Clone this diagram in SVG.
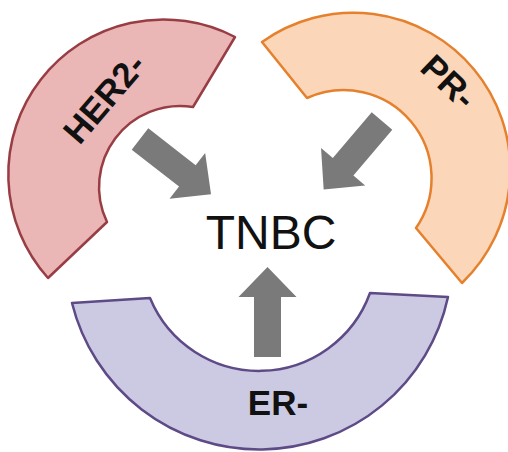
<svg xmlns="http://www.w3.org/2000/svg" width="508" height="452" viewBox="0 0 508 452">
<style>
.lbl{font-family:"Liberation Sans",Arial,sans-serif;font-weight:bold;fill:#111;text-anchor:middle}
.main{font-family:"Liberation Sans",Arial,sans-serif;fill:#111;text-anchor:middle}
.arr{fill:#7a7a7a}
</style>
<defs>
<polygon id="arrow" points="0,-13.5 60,-13.5 60,-29 90,0 60,29 60,13.5 0,13.5"/>
</defs>
<rect width="508" height="452" fill="#ffffff"/>
<g id="her2">
<path d="M48,278 A155,155 0 0 1 235,37 L193,107 A81,81 0 0 0 107,222 Z" fill="#ebb6b6" stroke="#993d44" stroke-width="2.5" stroke-linejoin="round"/>
<text class="lbl" font-size="35" transform="translate(104,98) rotate(-49.6)" y="12.5">HER2-</text>
</g>
<g id="pr">
<path d="M262,42 A157,157 0 0 1 462,283 L416,228 A88,88 0 0 0 307,98 Z" fill="#fcd6b8" stroke="#e5802d" stroke-width="2.5" stroke-linejoin="round"/>
<text class="lbl" font-size="35" transform="translate(449,81.5) rotate(43.6)" y="12.5">PR-</text>
</g>
<g id="er">
<path d="M72,303 L150,298 A118,118 0 0 0 370,293 L448,297 A193,193 0 0 1 72,303 Z" fill="#cbcae2" stroke="#5d4a86" stroke-width="2.5" stroke-linejoin="round"/>
<text class="lbl" font-size="35" x="278" y="415">ER-</text>
</g>
<g id="tnbc">
<text class="main" font-size="48" x="271" y="249">TNBC</text>
</g>
<g id="connectors" class="arr">
<use href="#arrow" transform="translate(140,139) rotate(37.9)"/>
<use href="#arrow" transform="translate(382,121) rotate(130.4)"/>
<use href="#arrow" transform="translate(267.5,357) rotate(-90)"/>
</g>
</svg>
